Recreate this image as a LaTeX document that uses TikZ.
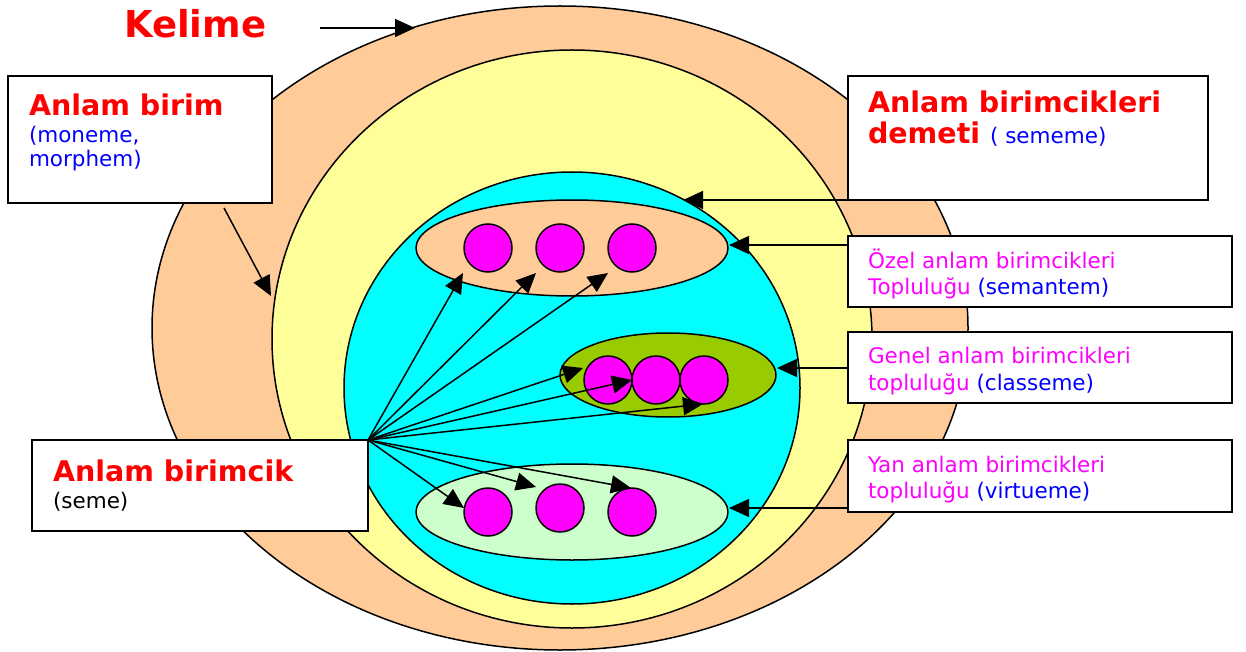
\documentclass[tikz,border=0pt]{standalone}
\usepackage{fontspec}
\setmainfont{DejaVu Sans}
\usetikzlibrary{arrows.meta,shapes.geometric}
\definecolor{peach}{HTML}{FFCC99}
\definecolor{lyellow}{HTML}{FFFF99}
\definecolor{cyanc}{HTML}{00FFFF}
\definecolor{olive}{HTML}{99CC00}
\definecolor{lgreen}{HTML}{CCFFCC}
\definecolor{magc}{HTML}{FF00FF}
\definecolor{redc}{HTML}{FF0000}
\definecolor{bluec}{HTML}{0000FF}
\begin{document}
\begin{tikzpicture}[x=1pt,y=-1pt,
  ell/.style={ellipse,draw=black,line width=1.5pt,inner sep=0pt,outer sep=0pt},
  dot/.style={circle,draw=black,line width=1.5pt,fill=magc,minimum size=48pt,inner sep=0pt,outer sep=0pt},
  box/.style={rectangle,draw=black,line width=1.6pt,fill=white,inner sep=0pt,outer sep=0pt,anchor=north west},
  txt/.style={anchor=base west,inner sep=0pt,outer sep=0pt},
  big/.style={font=\fontsize{28.5}{32}\selectfont\bfseries,text=redc},
  reg/.style={font=\fontsize{21.5}{25}\selectfont},
  arr/.style={line width=1.5pt,-{Triangle[length=20pt,width=18pt]}}
]
\useasboundingbox (0,0) rectangle (1246,652);
% ellipses
\node[ell,fill=peach,minimum width=816pt,minimum height=644pt] (kel) at (560,328) {};
\node[ell,fill=lyellow,minimum width=600pt,minimum height=578pt] (dem) at (572,339) {};
\node[ell,fill=cyanc,minimum width=456pt,minimum height=432pt] (cy) at (572,388) {};
\node[ell,fill=peach,minimum width=312pt,minimum height=96pt] (oz) at (572,248) {};
\node[ell,fill=olive,minimum width=216pt,minimum height=84pt] (ge) at (668,375) {};
\node[ell,fill=lgreen,minimum width=312pt,minimum height=96pt] (ya) at (572,512) {};
% circles
\node[dot] (a1) at (488,248) {};
\node[dot] (a2) at (560,248) {};
\node[dot] (a3) at (632,248) {};
\node[dot] (b1) at (608,380) {};
\node[dot] (b2) at (656,380) {};
\node[dot] (b3) at (704,380) {};
\node[dot] (c1) at (488,512) {};
\node[dot] (c2) at (560,508) {};
\node[dot] (c3) at (632,512) {};
% boxes
\node[box,minimum width=264pt,minimum height=127pt] (bb) at (8,76) {};
\node[box,minimum width=360pt,minimum height=124pt] (bd) at (848,76) {};
\node[box,minimum width=384pt,minimum height=71pt] (bo) at (848,236) {};
\node[box,minimum width=384pt,minimum height=71pt] (bg) at (848,332) {};
\node[box,minimum width=384pt,minimum height=72pt] (by) at (848,440) {};
\node[box,minimum width=336pt,minimum height=91pt] (bs) at (32,440) {};
% texts
\node[txt,font=\fontsize{37}{40}\selectfont\bfseries,text=redc] (tk) at (124,38) {Kelime};
\node[txt,big] (tb1) at (29,116) {Anlam birim};
\node[txt,reg,text=bluec] (tb2) at (29,143) {(moneme,};
\node[txt,reg,text=bluec] (tb3) at (29,167) {morphem)};
\node[txt,big] (td1) at (868,113) {Anlam birimcikleri};
\node[txt,big] (td2) at (868,144) {demeti \fontsize{21.5}{25}\selectfont\mdseries\color{bluec}( sememe)};
\node[txt,reg,text=magc] (to1) at (868,268) {Özel anlam birimcikleri};
\node[txt,reg,text=magc] (to2) at (868,294) {Topluluğu \color{bluec}(semantem)};
\node[txt,reg,text=magc] (tg1) at (868,363) {Genel anlam birimcikleri};
\node[txt,reg,text=magc] (tg2) at (868,390) {topluluğu \color{bluec}(classeme)};
\node[txt,reg,text=magc] (ty1) at (868,472) {Yan anlam birimcikleri};
\node[txt,reg,text=magc] (ty2) at (868,498) {topluluğu \color{bluec}(virtueme)};
\node[txt,big] (ts1) at (53,481) {Anlam birimcik};
\node[txt,reg,text=black] (ts2) at (53,508) {(seme)};
% arrow ends
\coordinate (k0) at (320,28);
\coordinate (k1) at (415,28);
\coordinate (m0) at (224,208);
\coordinate (m1) at (271,296);
\coordinate (d1) at (683,200);
\coordinate (o0) at (848,245);
\coordinate (o1) at (729,245);
\coordinate (g0) at (848,368);
\coordinate (g1) at (777,368);
\coordinate (y0) at (848,508);
\coordinate (y1) at (729,508);
\coordinate (p1) at (463,273);
\coordinate (p2) at (536,273);
\coordinate (p3) at (608,273);
\coordinate (q1) at (583,368);
\coordinate (q2) at (632,380);
\coordinate (q3) at (703,404);
\coordinate (r1) at (464,508);
\coordinate (r2) at (536,487);
\coordinate (r3) at (631,488);
\draw[arr] (k0) -- (k1);
\draw[arr] (m0) -- (m1);
\draw[arr] (bd.south west) -- (d1);
\draw[arr] (o0) -- (o1);
\draw[arr] (g0) -- (g1);
\draw[arr] (y0) -- (y1);
\foreach \t in {p1,p2,p3,q1,q2,q3,r1,r2,r3}
  \draw[arr] (bs.north east) -- (\t);
\end{tikzpicture}
\end{document}
